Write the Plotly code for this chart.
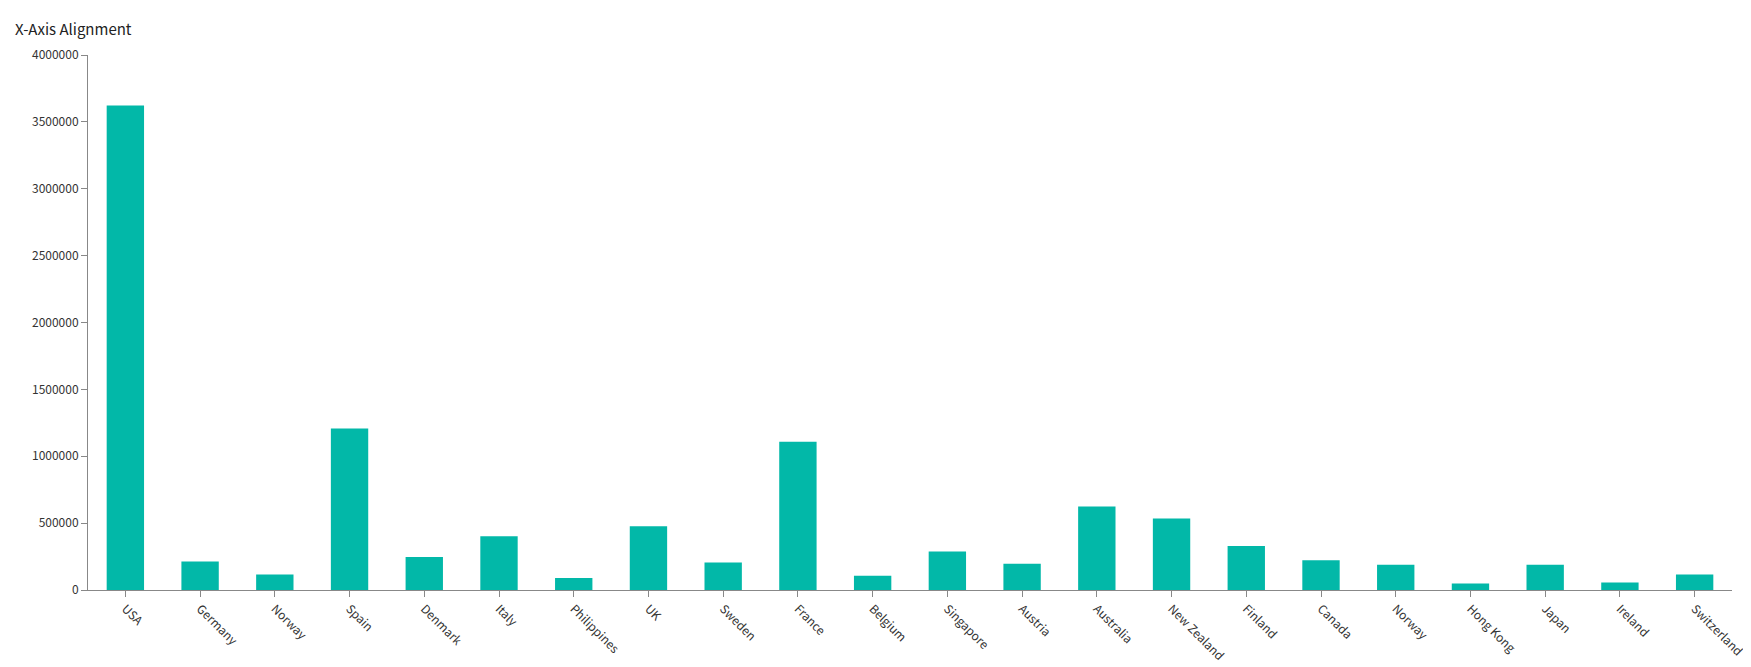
import plotly.graph_objects as go

countries = ["USA", "Germany", "Norway", "Spain", "Denmark", "Italy", "Philippines", "UK",
             "Sweden", "France", "Belgium", "Singapore", "Austria", "Australia", "New Zealand",
             "Finland", "Canada", "Norway", "Hong Kong", "Japan", "Ireland", "Switzerland"]
values = [3622000, 213000, 115000, 1207000, 246000, 402000, 90000, 476000,
          205000, 1109000, 107000, 287000, 197000, 624000, 534000,
          329000, 222000, 189000, 49000, 189000, 57000, 115000]
y_ticks = [0, 500000, 1000000, 1500000, 2000000, 2500000, 3000000, 3500000, 4000000]

idx = list(range(len(countries)))  # Norway appears twice, so use positions

fig = go.Figure(go.Bar(x=idx, y=values, width=0.5, marker_color="#02b8a8",
                       marker_line_width=0))

font = "Microsoft YaHei, Noto Sans CJK SC, sans-serif"
fig.update_layout(
    width=1751, height=667,
    margin=dict(l=80, r=24, t=47, b=77),
    paper_bgcolor="white", plot_bgcolor="white",
    title=dict(text="X-Axis Alignment", x=0.004, xanchor="left", y=0.975, yanchor="top",
               font=dict(family=font, size=15, color="#222")),
    font=dict(family=font, size=12, color="#333"),
    showlegend=False,
)
fig.update_xaxes(tickmode="array", tickvals=idx, ticktext=countries, tickangle=45,
                 range=[-0.5, len(countries) - 0.5], showline=True, linecolor="#888",
                 ticks="outside", ticklen=6, tickcolor="#888", showgrid=False,
                 tickfont=dict(size=12, color="#333"))
fig.update_yaxes(tickvals=y_ticks, tickformat="d", range=[0, 4000000], showline=True,
                 linecolor="#888", ticks="outside", ticklen=6, tickcolor="#888",
                 showgrid=False, zeroline=False, tickfont=dict(size=12, color="#333"))

fig.write_html("out.html")
